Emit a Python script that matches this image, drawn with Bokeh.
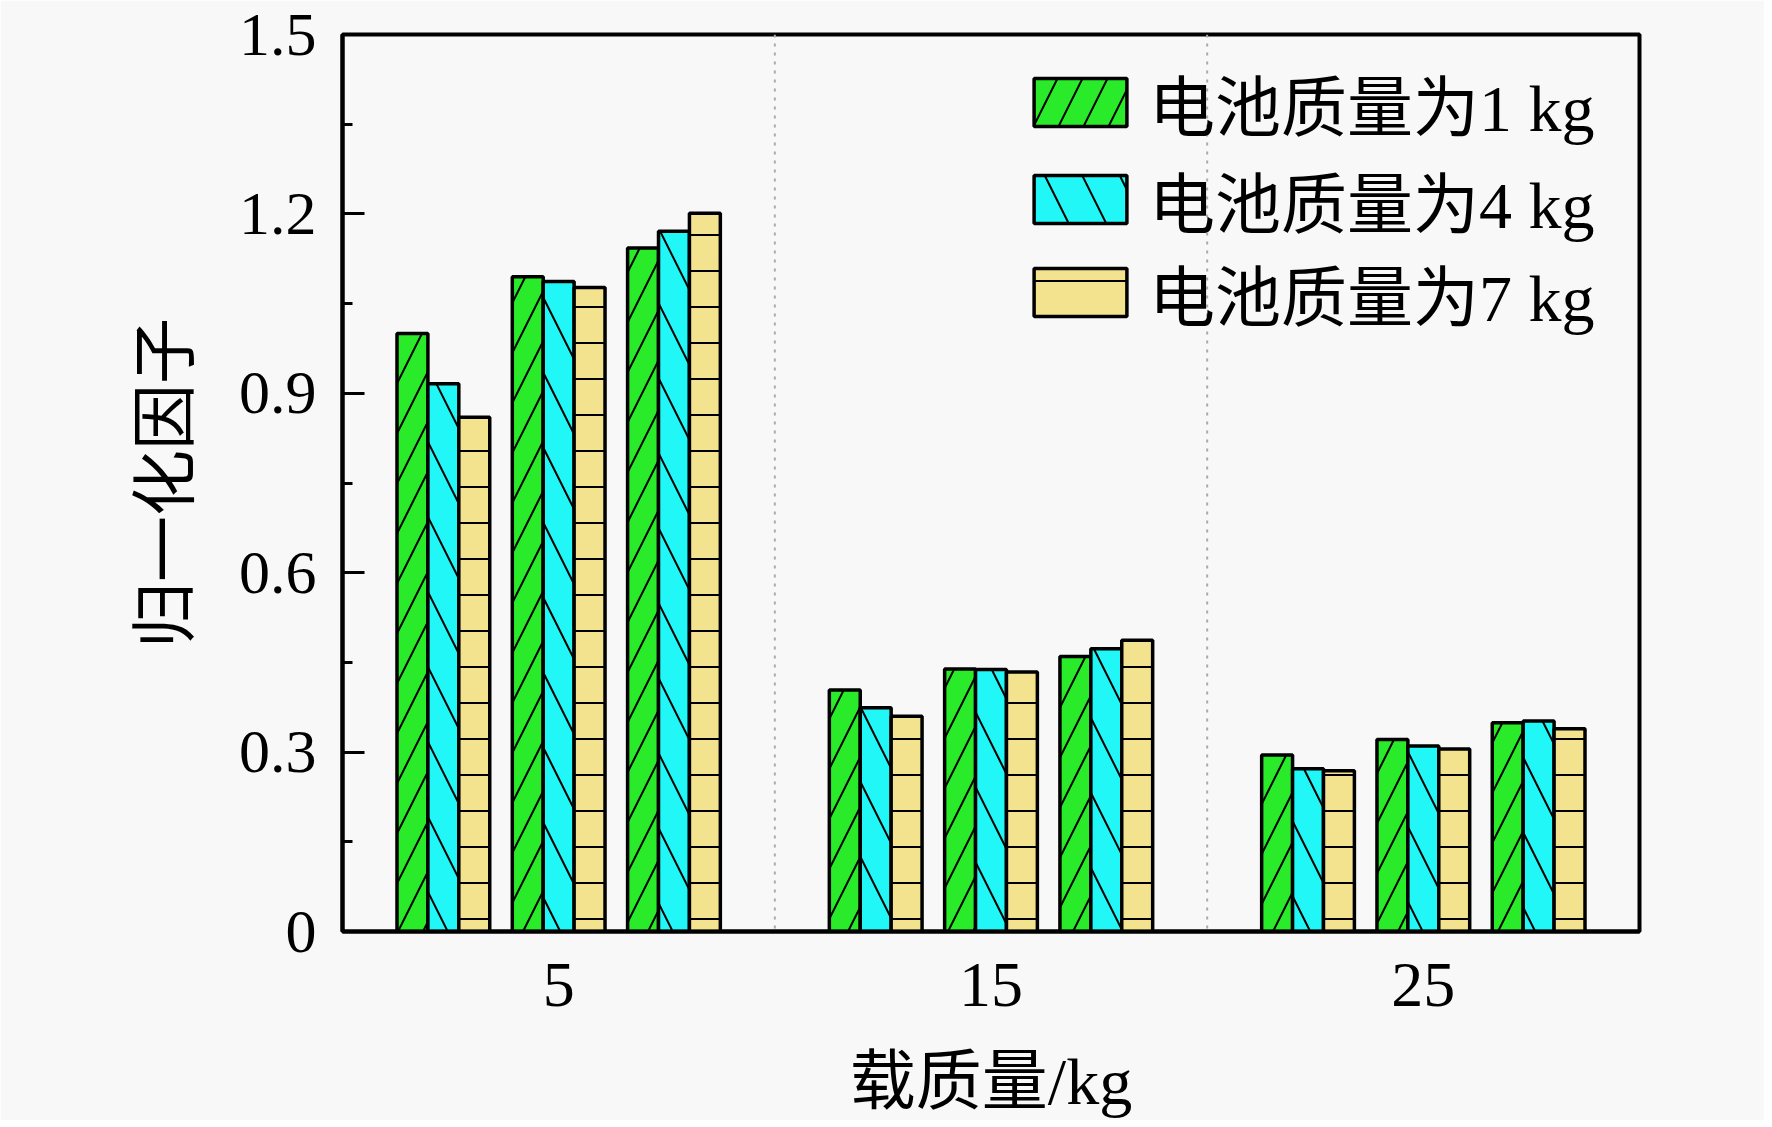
from bokeh.plotting import figure
from bokeh.models import (Range1d, FixedTicker, CustomJSTickFormatter, Span,
                          Legend, LegendItem, ColumnDataSource)
from bokeh.embed import file_html
from bokeh.resources import INLINE

# ---------------- data ----------------
payload_groups = [5, 15, 25]                 # 载质量/kg
dividers = [10, 20]
series_labels = ["电池质量为1 kg", "电池质量为4 kg", "电池质量为7 kg"]
# three unlabeled clusters per payload group, values in group order
battery_1kg = [1.000, 1.095, 1.143, 0.404, 0.439, 0.460, 0.295, 0.321, 0.349]
battery_4kg = [0.916, 1.087, 1.171, 0.374, 0.438, 0.473, 0.272, 0.310, 0.352]
battery_7kg = [0.860, 1.077, 1.201, 0.360, 0.434, 0.487, 0.269, 0.305, 0.339]
y_ticks = [0, 0.3, 0.6, 0.9, 1.2, 1.5]
y_minor = [0.15, 0.45, 0.75, 1.05, 1.35]
x_title = "载质量/kg"
y_title = "归一化因子"

# ---------------- style ----------------
FONT = "'Liberation Serif', 'Noto Sans CJK SC'"
BG = "#f8f8f8"
colors = ["#2aeb2a", "#22f7f7", "#f3e28e"]
hatches = ["/", "\\", "-"]
hatch_scales = [50, 75, 36]
cluster_offsets = [-2.667, 0.0, 2.667]
bar_w = 0.715

p = figure(frame_width=1297, frame_height=897,
           x_range=Range1d(0, 30), y_range=Range1d(0, 1.5),
           output_backend="svg", toolbar_location=None,
           min_border_left=342, min_border_top=34,
           min_border_right=125, min_border_bottom=180,
           background_fill_color=BG, border_fill_color=BG)
p.grid.visible = False
p.outline_line_color = "black"
p.outline_line_width = 4

series = [battery_1kg, battery_4kg, battery_7kg]
renderers = []
for si, vals in enumerate(series):
    xs = []
    for g in payload_groups:
        for off in cluster_offsets:
            xs.append(g + off + (si - 1) * bar_w)
    src = ColumnDataSource(dict(x=xs, top=vals))
    r = p.vbar(x="x", top="top", bottom=0, width=bar_w, source=src,
               fill_color=colors[si], line_color="black", line_width=3.5,
               hatch_pattern=hatches[si], hatch_scale=hatch_scales[si],
               hatch_color="black", hatch_weight=2)
    renderers.append(r)

for d in dividers:
    p.add_layout(Span(location=d, dimension="height", line_color="#aaaaaa",
                      line_width=2, line_dash="3 6"))

# y axis
ya = p.yaxis[0]
ya.ticker = FixedTicker(ticks=y_ticks, minor_ticks=y_minor)
ya.formatter = CustomJSTickFormatter(code="return tick == 0 ? '0' : tick.toFixed(1);")
ya.axis_line_width = 4
ya.major_tick_in = 22
ya.major_tick_out = 0
ya.minor_tick_in = 10
ya.minor_tick_out = 0
ya.major_tick_line_width = 3
ya.minor_tick_line_width = 3
ya.major_label_text_font = FONT
ya.major_label_text_font_size = "62px"
ya.major_label_text_color = "black"
ya.major_label_standoff = 26
ya.axis_label = y_title
ya.axis_label_text_font = FONT
ya.axis_label_text_font_size = "66px"
ya.axis_label_text_font_style = "normal"
ya.axis_label_text_color = "black"
ya.axis_label_standoff = 34

# x axis
xa = p.xaxis[0]
xa.ticker = FixedTicker(ticks=payload_groups, minor_ticks=[])
xa.axis_line_width = 4
xa.major_tick_in = 0
xa.major_tick_out = 0
xa.minor_tick_in = 0
xa.minor_tick_out = 0
xa.major_label_text_font = FONT
xa.major_label_text_font_size = "64px"
xa.major_label_text_color = "black"
xa.major_label_standoff = 32
xa.axis_label = x_title
xa.axis_label_text_font = FONT
xa.axis_label_text_font_size = "66px"
xa.axis_label_text_font_style = "normal"
xa.axis_label_text_color = "black"
xa.axis_label_standoff = 36

# legend: one legend per row so that the row pitch matches the reference
legend_rows_y = [779, 682, 589]
for r, lab, ly in zip(renderers, series_labels, legend_rows_y):
    lg = Legend(items=[LegendItem(label=lab, renderers=[r])], location=(680, ly),
                glyph_width=116, glyph_height=60, label_height=100,
                padding=0, margin=0, label_standoff=11,
                label_text_font=FONT, label_text_font_size="66px",
                label_text_color="black",
                border_line_color=None, background_fill_alpha=0)
    p.add_layout(lg)

open("out.html", "w").write(file_html(p, INLINE))
